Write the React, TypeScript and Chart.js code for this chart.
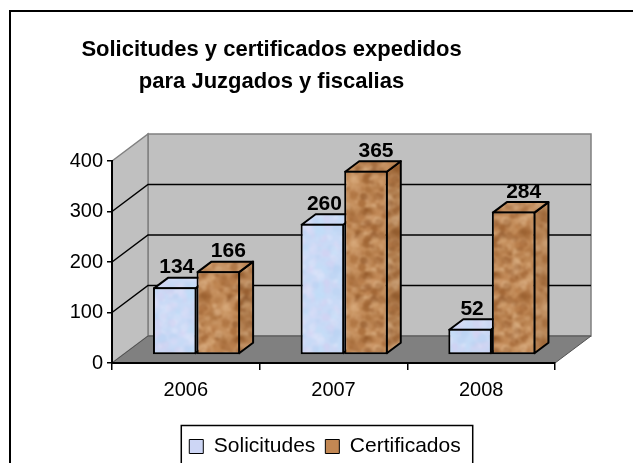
import React, { useEffect, useRef } from 'react';
import { Chart, registerables } from 'chart.js';

Chart.register(...registerables);

// ---- data ----
const categories = ['2006', '2007', '2008'];
const solicitudes = [134, 260, 52];
const certificados = [166, 365, 284];
const seriesNames = ['Solicitudes', 'Certificados'];
const titleLines = ['Solicitudes y certificados expedidos', 'para Juzgados y fiscalias'];
const yMin = 0;
const yMax = 400;
const yStep = 100;

// ---- style ----
const FONT = "'Liberation Sans', Arial, Helvetica, sans-serif";
const WALL_DEPTH = { dx: 36, dy: -27 };
const BAR_FRONT = { dx: 10.7, dy: -8 };
const BAR_DEPTH = { dx: 14, dy: -10.5 };
const TITLE_SHIFT = -6;
const LEGEND_SHIFT = 47.5;
const legendColors = ['#cdd6f5', '#c28753'];

function mulberry32(a: number) {
  return function () {
    a |= 0;
    a = (a + 0x6d2b79f5) | 0;
    let t = Math.imul(a ^ (a >>> 15), 1 | a);
    t = (t + Math.imul(t ^ (t >>> 7), 61 | t)) ^ t;
    return ((t ^ (t >>> 14)) >>> 0) / 4294967296;
  };
}

function makeTexture(base: string, spots: string[], seed: number, count: number, maxR: number) {
  const size = 64;
  const c = document.createElement('canvas');
  c.width = size;
  c.height = size;
  const g = c.getContext('2d')!;
  g.fillStyle = base;
  g.fillRect(0, 0, size, size);
  const rnd = mulberry32(seed);
  for (let i = 0; i < count; i++) {
    const col = spots[Math.floor(rnd() * spots.length)];
    const x = rnd() * size;
    const y = rnd() * size;
    const r = 1 + rnd() * maxR;
    g.globalAlpha = 0.2 + rnd() * 0.35;
    g.fillStyle = col;
    for (const ox of [-size, 0, size]) {
      for (const oy of [-size, 0, size]) {
        g.beginPath();
        g.arc(x + ox, y + oy, r, 0, Math.PI * 2);
        g.fill();
      }
    }
  }
  g.globalAlpha = 1;
  const big = document.createElement('canvas');
  big.width = size * 3;
  big.height = size * 3;
  const bg = big.getContext('2d')!;
  for (let i = 0; i < 3; i++) for (let j = 0; j < 3; j++) bg.drawImage(c, i * size, j * size);
  const blurred = document.createElement('canvas');
  blurred.width = size * 3;
  blurred.height = size * 3;
  const blg = blurred.getContext('2d')!;
  blg.filter = 'blur(1.3px)';
  blg.drawImage(big, 0, 0);
  const out = document.createElement('canvas');
  out.width = size;
  out.height = size;
  out.getContext('2d')!.drawImage(blurred, size, size, size, size, 0, 0, size, size);
  return out;
}

function poly(ctx: CanvasRenderingContext2D, pts: number[][], fill: any, stroke?: string, lw = 1) {
  ctx.beginPath();
  ctx.moveTo(pts[0][0], pts[0][1]);
  for (let i = 1; i < pts.length; i++) ctx.lineTo(pts[i][0], pts[i][1]);
  ctx.closePath();
  if (fill) {
    ctx.fillStyle = fill;
    ctx.fill();
  }
  if (stroke) {
    ctx.strokeStyle = stroke;
    ctx.lineWidth = lw;
    ctx.stroke();
  }
}

const threeDPlugin = {
  id: 'threeD',
  afterLayout(chart: any) {
    if (chart.titleBlock) {
      chart.titleBlock.left += TITLE_SHIFT;
      chart.titleBlock.right += TITLE_SHIFT;
    }
    if (chart.legend) {
      chart.legend.left += LEGEND_SHIFT;
      chart.legend.right += LEGEND_SHIFT;
    }
  },
  beforeDraw(chart: any) {
    const { ctx, chartArea: a, scales } = chart;
    const y = scales.y;
    ctx.save();
    ctx.fillStyle = '#ffffff';
    ctx.fillRect(0, 0, chart.width, chart.height);
    ctx.strokeStyle = '#000';
    ctx.lineWidth = 2;
    ctx.strokeRect(10, 11, chart.width + 20, chart.height + 20);

    const { dx, dy } = WALL_DEPTH;
    const y0 = y.getPixelForValue(y.min);
    const yT = y.getPixelForValue(y.max);
    const L = a.left;
    const R = a.right;
    poly(ctx, [[L + dx, y0 + dy], [R + dx, y0 + dy], [R + dx, yT + dy], [L + dx, yT + dy]], '#c0c0c0', '#808080', 1.5);
    poly(ctx, [[L, y0], [L + dx, y0 + dy], [L + dx, yT + dy], [L, yT]], '#c0c0c0', '#808080', 1.5);
    poly(ctx, [[L, y0], [R, y0], [R + dx, y0 + dy], [L + dx, y0 + dy]], '#808080', '#505050', 1);
    ctx.strokeStyle = '#000';
    ctx.lineWidth = 1.5;
    for (const t of y.ticks) {
      if (t.value <= y.min || t.value >= y.max) continue;
      const yy = y.getPixelForValue(t.value);
      ctx.beginPath();
      ctx.moveTo(L, yy);
      ctx.lineTo(L + dx, yy + dy);
      ctx.lineTo(R + dx, yy + dy);
      ctx.stroke();
    }
    ctx.restore();
  },
  beforeDatasetsDraw(chart: any) {
    const ctx = chart.ctx;
    ctx.save();
    ctx.translate(BAR_FRONT.dx, BAR_FRONT.dy);
    const { dx, dy } = BAR_DEPTH;
    const metas = chart.getSortedVisibleDatasetMetas().slice().sort((p: any, q: any) => p.index - q.index);
    ctx.lineJoin = 'round';
    for (const meta of metas) {
      const ds = chart.data.datasets[meta.index];
      for (const el of meta.data) {
        const { x, y, base, width } = el.getProps(['x', 'y', 'base', 'width'], true);
        const Lx = x - width / 2 + 1;
        const Rx = x + width / 2 - 1;
        const T = Math.min(y, base) + 1;
        const B = Math.max(y, base) - 1;
        poly(ctx, [[Rx, T], [Rx + dx, T + dy], [Rx + dx, B + dy], [Rx, B]], ds.backgroundColor);
        poly(ctx, [[Rx, T], [Rx + dx, T + dy], [Rx + dx, B + dy], [Rx, B]], 'rgba(0,0,0,0.06)', '#000', 2);
        poly(ctx, [[Lx, T], [Rx, T], [Rx + dx, T + dy], [Lx + dx, T + dy]], ds.backgroundColor);
        poly(ctx, [[Lx, T], [Rx, T], [Rx + dx, T + dy], [Lx + dx, T + dy]], 'rgba(255,255,255,0.05)', '#000', 2);
      }
    }
  },
  afterDatasetsDraw(chart: any) {
    const ctx = chart.ctx;
    ctx.fillStyle = '#000';
    ctx.font = `bold 21px ${FONT}`;
    ctx.textAlign = 'center';
    ctx.textBaseline = 'alphabetic';
    chart.data.datasets.forEach((ds: any, di: number) => {
      const meta = chart.getDatasetMeta(di);
      meta.data.forEach((el: any, i: number) => {
        const { x, y } = el.getProps(['x', 'y'], true);
        const off = di === 0 ? 2 : 10;
        ctx.fillText(String(ds.data[i]), x + off, y - 14);
      });
    });
    ctx.restore();
  },
  afterDraw(chart: any) {
    const lg = chart.legend;
    if (!lg || !lg.legendHitBoxes || !lg.legendHitBoxes.length) return;
    const hb = lg.legendHitBoxes;
    const first = hb[0];
    const last = hb[hb.length - 1];
    const ctx = chart.ctx;
    ctx.save();
    ctx.strokeStyle = '#000';
    ctx.lineWidth = 1.5;
    const left = first.left - 8;
    const right = last.left + last.width + 12;
    ctx.strokeRect(left, lg.top - 0.5, right - left, 60);
    ctx.restore();
  },
};

export default function App() {
  const ref = useRef<HTMLCanvasElement>(null);
  useEffect(() => {
    const canvas = ref.current!;
    const ctx = canvas.getContext('2d')!;
    const blueTex = makeTexture('#c9daf6', ['#dcdaf6', '#b8d2f2', '#e4e8fb', '#d4cff0', '#c0def8'], 7, 160, 4);
    const brownTex = makeTexture('#c48e5c', ['#985c2c', '#a66a38', '#dcae80', '#e2ba90', '#8a5226', '#b77a45'], 11, 260, 3.5);
    const bluePattern = ctx.createPattern(blueTex, 'repeat');
    const brownPattern = ctx.createPattern(brownTex, 'repeat');

    const chart = new Chart(canvas, {
      type: 'bar',
      data: {
        labels: categories,
        datasets: [
          {
            label: seriesNames[0],
            data: solicitudes,
            backgroundColor: bluePattern as any,
            borderColor: '#000',
            borderWidth: 2,
            borderSkipped: false,
            barPercentage: 1,
            categoryPercentage: 0.59,
            clip: false as any,
          },
          {
            label: seriesNames[1],
            data: certificados,
            backgroundColor: brownPattern as any,
            borderColor: '#000',
            borderWidth: 2,
            borderSkipped: false,
            barPercentage: 1,
            categoryPercentage: 0.59,
            clip: false as any,
          },
        ],
      },
      options: {
        responsive: false,
        animation: false,
        events: [],
        layout: { padding: { left: 0, right: 78, top: 0, bottom: -4 } },
        plugins: {
          title: {
            display: true,
            text: titleLines,
            color: '#000',
            font: { family: FONT, size: 22, weight: 'bold', lineHeight: 32 / 22 },
            padding: { top: 34, bottom: 63 },
          },
          legend: {
            position: 'bottom',
            labels: {
              color: '#000',
              font: { family: FONT, size: 21 },
              boxWidth: 14,
              boxHeight: 14,
              padding: 10,
              generateLabels: (c: any) =>
                (Chart.defaults.plugins.legend.labels.generateLabels as any)(c).map((l: any, i: number) => ({
                  ...l,
                  fillStyle: legendColors[i],
                  strokeStyle: '#000',
                  lineWidth: 1,
                })),
            },
          },
          tooltip: { enabled: false },
        },
        scales: {
          x: {
            grid: { drawOnChartArea: false, drawTicks: true, tickLength: 7, color: '#000', lineWidth: 1.5, offset: true },
            border: { color: '#000', width: 2 },
            ticks: { color: '#000', font: { family: FONT, size: 20 }, padding: 8 },
            afterFit: (s: any) => {
              s.height = 63;
            },
          },
          y: {
            min: yMin,
            max: yMax,
            ticks: { stepSize: yStep, color: '#000', font: { family: FONT, size: 20 }, padding: 4 },
            grid: { drawOnChartArea: false, drawTicks: true, tickLength: 5, color: '#000', lineWidth: 1.5 },
            border: { color: '#000', width: 2 },
            afterFit: (s: any) => {
              s.width = 112;
            },
          },
        },
      },
      plugins: [threeDPlugin],
    });
    return () => chart.destroy();
  }, []);

  return (
    <div style={{ position: 'absolute', left: 0, top: 0, width: 633, height: 463, overflow: 'hidden' }}>
      <canvas ref={ref} width={633} height={463} style={{ display: 'block' }} />
    </div>
  );
}
